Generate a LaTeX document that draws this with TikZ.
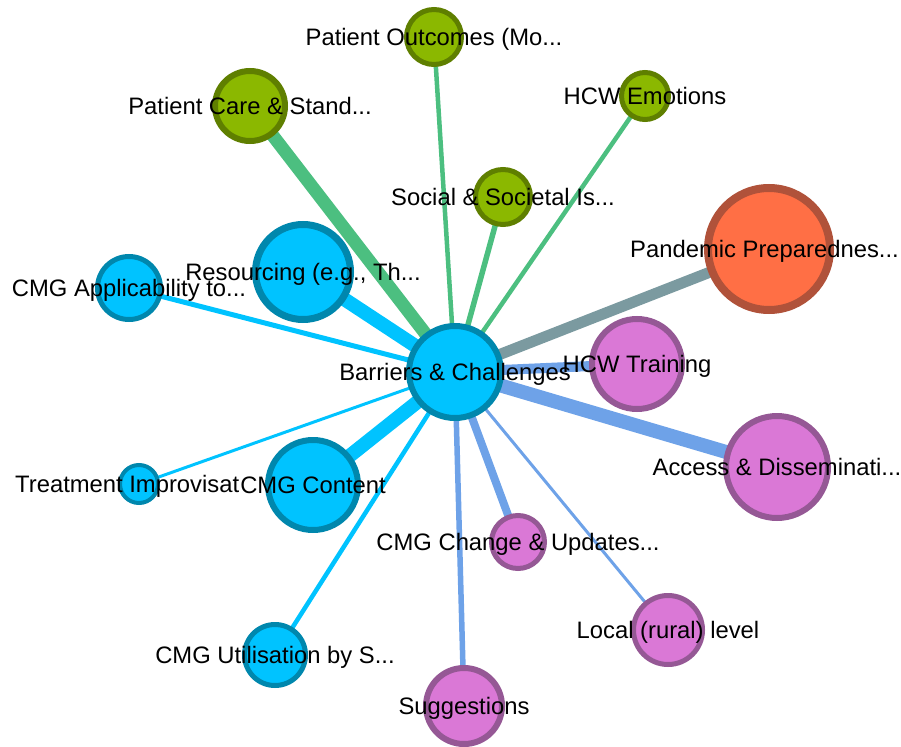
\documentclass[tikz,border=0pt]{standalone}
\usepackage{fontspec}
\setmainfont{Liberation Sans}
\usetikzlibrary{backgrounds}

\definecolor{bluefill}{HTML}{00C3FF}
\definecolor{blueline}{HTML}{0087AD}
\definecolor{greenfill}{HTML}{8BB800}
\definecolor{greenline}{HTML}{5F7F00}
\definecolor{orangefill}{HTML}{FF6F45}
\definecolor{orangeline}{HTML}{B0523A}
\definecolor{purplefill}{HTML}{DA78D6}
\definecolor{purpleline}{HTML}{955895}
\definecolor{cyanedge}{HTML}{00C3FF}
\definecolor{greenedge}{HTML}{4CBF80}
\definecolor{grayedge}{HTML}{7B9AA0}
\definecolor{blueedge}{HTML}{6EA2E8}

\begin{document}
\begin{tikzpicture}[x=1pt, y=-1pt,
    topic/.style={circle, draw, inner sep=0pt},
    bluetopic/.style={topic, fill=bluefill, draw=blueline},
    greentopic/.style={topic, fill=greenfill, draw=greenline},
    orangetopic/.style={topic, fill=orangefill, draw=orangeline},
    purpletopic/.style={topic, fill=purplefill, draw=purpleline},
    tag/.style={anchor=base, yshift=-8.5pt, inner sep=0pt, font=\fontsize{23.8}{28}\selectfont},
    cyanlink/.style={draw=cyanedge},
    greenlink/.style={draw=greenedge},
    graylink/.style={draw=grayedge},
    bluelink/.style={draw=blueedge}]
    \useasboundingbox (0,0) rectangle (901,746);

    % Define the topic circles
    \node[bluetopic, minimum size=92pt, line width=6pt] (bc) at (455,372) {};
    \node[bluetopic, minimum size=95pt, line width=7pt] (res) at (303,272) {};
    \node[bluetopic, minimum size=63pt, line width=5pt] (app) at (129,288) {};
    \node[bluetopic, minimum size=38pt, line width=4pt] (imp) at (139,484) {};
    \node[bluetopic, minimum size=90pt, line width=6pt] (cont) at (313,485) {};
    \node[bluetopic, minimum size=61pt, line width=5pt] (util) at (275,655) {};
    \node[greentopic, minimum size=70pt, line width=6pt] (care) at (250,106) {};
    \node[greentopic, minimum size=55pt, line width=5pt] (outc) at (434,37) {};
    \node[greentopic, minimum size=47pt, line width=5pt] (emo) at (645,96) {};
    \node[greentopic, minimum size=55pt, line width=5pt] (soc) at (503,197) {};
    \node[orangetopic, minimum size=122pt, line width=8pt] (pand) at (769,249) {};
    \node[purpletopic, minimum size=90pt, line width=6pt] (train) at (637,364) {};
    \node[purpletopic, minimum size=102pt, line width=6pt] (acc) at (777,467) {};
    \node[purpletopic, minimum size=53pt, line width=5pt] (chg) at (518,542) {};
    \node[purpletopic, minimum size=69pt, line width=5pt] (loc) at (668,630) {};
    \node[purpletopic, minimum size=76pt, line width=6pt] (sug) at (464,706) {};

    % Draw the links behind the circles
    \begin{scope}[on background layer]
        \draw[cyanlink, line width=14pt] (bc.center) -- (res.center);
        \draw[cyanlink, line width=5pt] (bc.center) -- (app.center);
        \draw[cyanlink, line width=3pt] (bc.center) -- (imp.center);
        \draw[cyanlink, line width=14pt] (bc.center) -- (cont.center);
        \draw[cyanlink, line width=4.5pt] (bc.center) -- (util.center);
        \draw[greenlink, line width=13pt] (bc.center) -- (care.center);
        \draw[greenlink, line width=4.5pt] (bc.center) -- (outc.center);
        \draw[greenlink, line width=4.5pt] (bc.center) -- (emo.center);
        \draw[greenlink, line width=5.5pt] (bc.center) -- (soc.center);
        \draw[graylink, line width=11pt] (bc.center) -- (pand.center);
        \draw[bluelink, line width=10pt] (bc.center) -- (train.center);
        \draw[bluelink, line width=14pt] (bc.center) -- (acc.center);
        \draw[bluelink, line width=8pt] (bc.center) -- (chg.center);
        \draw[bluelink, line width=3pt] (bc.center) -- (loc.center);
        \draw[bluelink, line width=5.5pt] (bc.center) -- (sug.center);
    \end{scope}

    % Place the labels on top
    \node[tag] (bc-tag) at (bc) {Barriers \& Challenges};
    \node[tag] (res-tag) at (res) {Resourcing (e.g., Th...};
    \node[tag] (app-tag) at (app) {CMG Applicability to...};
    \node[tag, anchor=base west] (imp-tag) at (15,484) {Treatment Improvisat};
    \node[tag] (cont-tag) at (cont) {CMG Content};
    \node[tag] (util-tag) at (util) {CMG Utilisation by S...};
    \node[tag] (care-tag) at (care) {Patient Care \& Stand...};
    \node[tag] (outc-tag) at (outc) {Patient Outcomes (Mo...};
    \node[tag] (emo-tag) at (emo) {HCW Emotions};
    \node[tag] (soc-tag) at (soc) {Social \& Societal Is...};
    \node[tag, anchor=base east] (pand-tag) at (899,249) {Pandemic Preparednes...};
    \node[tag] (train-tag) at (train) {HCW Training};
    \node[tag] (acc-tag) at (acc) {Access \& Disseminati...};
    \node[tag] (chg-tag) at (chg) {CMG Change \& Updates...};
    \node[tag] (loc-tag) at (loc) {Local (rural) level};
    \node[tag] (sug-tag) at (sug) {Suggestions};

\end{tikzpicture}
\end{document}
